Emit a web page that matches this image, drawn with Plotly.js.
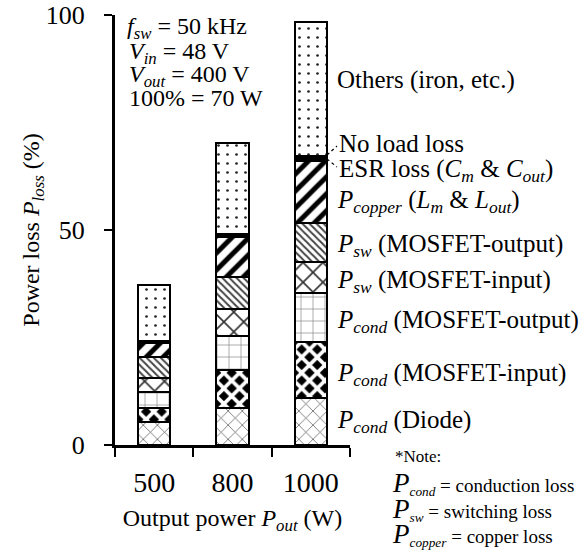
<!DOCTYPE html>
<html>
<head>
<meta charset="utf-8">
<script src="https://cdn.plot.ly/plotly-3.0.1.min.js"></script>
<style>body{margin:0;background:#fff;} #chart{width:583px;height:552px;}</style>
</head>
<body>
<div id="chart"></div>
<script>
// ---- data ----
const powers = ['500', '800', '1000'];
const condDiode = [5.4, 8.7, 10.9];
const condMosIn = [3.3, 8.7, 13.1];
const condMosOut = [3.6, 7.9, 11.3];
const swMosIn = [3.2, 6.3, 7.3];
const swMosOut = [4.9, 7.4, 9.0];
const copperLoss = [3.3, 9.4, 14.5];
const esrLoss = [0.2, 0.3, 0.4];
const noLoadLoss = [0.3, 0.4, 0.7];
const othersLoss = [13.0, 21.1, 31.2];
const yTicks = [0, 50, 100];

const FONT = 'Liberation Serif, serif';
const W = 583, H = 552, L = 115, R = 233, T = 15, B = 107;
const pw = W - L - R, ph = H - T - B;
const px = x => (x - L) / pw;
const py = y => (H - B - y) / ph;

function bar(name, vals, pattern, color) {
  return {
    type: 'bar', name: name, x: powers, y: vals,
    marker: {
      color: color || '#fff',
      line: {color: '#000', width: 2},
      pattern: pattern || {shape: ''}
    },
    showlegend: false, hoverinfo: 'y'
  };
}
function pat(shape, fg, bg, size, solidity) {
  return {shape: shape, fgcolor: fg, bgcolor: bg, size: size, solidity: solidity, fgopacity: 1, fillmode: 'overlay'};
}

const traces = [
  bar('Pcond (Diode)', condDiode, pat('x', '#555', '#fff', 10, 0.14)),
  bar('Pcond (MOSFET-input)', condMosIn, pat('x', '#fff', '#000', 11, 0.55)),
  bar('Pcond (MOSFET-output)', condMosOut, pat('+', '#777', '#fff', 12, 0.1)),
  bar('Psw (MOSFET-input)', swMosIn, pat('x', '#333', '#fff', 14, 0.22)),
  bar('Psw (MOSFET-output)', swMosOut, pat('\\', '#444', '#fff', 5, 0.4)),
  bar('Pcopper (Lm & Lout)', copperLoss, pat('/', '#000', '#fff', 12, 0.42)),
  bar('ESR loss (Cm & Cout)', esrLoss, null, '#000'),
  bar('No load loss', noLoadLoss, null, '#000'),
  bar('Others (iron, etc.)', othersLoss, pat('.', '#222', '#fff', 9, 0.07))
];

const labelFont = {family: FONT, size: 25, color: '#000'};
const rightLabels = [
  ['Others (iron, etc.)', 335, 80],
  ['No load loss', 337, 143],
  ['ESR loss (<i>C</i><sub><i>m</i></sub> &amp; <i>C</i><sub><i>out</i></sub>)', 337, 170],
  ['<i>P</i><sub><i>copper</i></sub> (<i>L</i><sub><i>m</i></sub> &amp; <i>L</i><sub><i>out</i></sub>)', 335, 201],
  ['<i>P</i><sub><i>sw</i></sub> (MOSFET-output)', 335, 245],
  ['<i>P</i><sub><i>sw</i></sub> (MOSFET-input)', 335, 281],
  ['<i>P</i><sub><i>cond</i></sub> (MOSFET-output)', 335, 321],
  ['<i>P</i><sub><i>cond</i></sub> (MOSFET-input)', 335, 375],
  ['<i>P</i><sub><i>cond</i></sub> (Diode)', 335, 421]
];
const condLabels = [
  ['<i>f</i><sub><i>sw</i></sub> = 50 kHz', 125, 28],
  ['<i>V</i><sub><i>in</i></sub> = 48 V', 127, 53],
  ['<i>V</i><sub><i>out</i></sub> = 400 V', 127, 76],
  ['100% = 70 W', 127, 98]
];
const noteLabels = [
  ['*Note:', 393, 457, 17],
  ['<span style="font-size:27px"><i>P</i></span><sub><i>cond</i></sub> = conduction loss', 390, 484, 19],
  ['<span style="font-size:27px"><i>P</i></span><sub><i>sw</i></sub> = switching loss', 390, 509, 19],
  ['<span style="font-size:27px"><i>P</i></span><sub><i>copper</i></sub> = copper loss', 390, 534, 19]
];

const annotations = [];
rightLabels.forEach(a => annotations.push({
  text: a[0], xref: 'paper', yref: 'paper', x: px(a[1]), y: py(a[2]),
  xanchor: 'left', yanchor: 'middle', showarrow: false, font: labelFont
}));
condLabels.forEach(a => annotations.push({
  text: a[0], xref: 'paper', yref: 'paper', x: px(a[1]), y: py(a[2]),
  xanchor: 'left', yanchor: 'middle', showarrow: false, font: {family: FONT, size: 24, color: '#000'}
}));
noteLabels.forEach(a => annotations.push({
  text: a[0], xref: 'paper', yref: 'paper', x: px(a[1]), y: py(a[2]),
  xanchor: 'left', yanchor: 'middle', showarrow: false,
  font: {family: FONT, size: a[3], color: '#000'}
}));

const shapes = [
  {type: 'line', xref: 'paper', yref: 'paper', x0: px(327), y0: py(155), x1: px(337), y1: py(146), line: {color: '#000', width: 1.2, dash: 'dot'}},
  {type: 'line', xref: 'paper', yref: 'paper', x0: px(327), y0: py(159), x1: px(337), y1: py(167), line: {color: '#000', width: 1.2, dash: 'dot'}}
];

const layout = {
  width: W, height: H,
  margin: {l: L, r: R, t: T, b: B},
  paper_bgcolor: '#fff', plot_bgcolor: '#fff',
  barmode: 'stack', bargap: 0.59,
  font: {family: FONT, color: '#000'},
  xaxis: {
    type: 'category', showline: true, linewidth: 3, linecolor: '#000',
    ticks: 'outside', tickson: 'boundaries', ticklen: 9, tickwidth: 2, tickcolor: '#000',
    tickfont: {family: FONT, size: 28}, ticklabelstandoff: 10,
    showgrid: false, zeroline: false,
    title: {text: 'Output power <i>P</i><sub><i>out</i></sub> (W)', font: {family: FONT, size: 24}, standoff: 13}
  },
  yaxis: {
    range: [0, 100], showline: true, linewidth: 3, linecolor: '#000',
    ticks: 'outside', ticklen: 8, tickwidth: 2, tickcolor: '#000',
    tickvals: yTicks, ticktext: yTicks.map(String),
    tickfont: {family: FONT, size: 26}, ticklabelstandoff: 14,
    showgrid: false, zeroline: false,
    title: {text: 'Power loss <i>P</i><sub><i>loss</i></sub> (%)', font: {family: FONT, size: 24}, standoff: 0}
  },
  annotations: annotations,
  shapes: shapes
};

Plotly.newPlot('chart', traces, layout, {displayModeBar: false, staticPlot: true});
</script>
</body>
</html>
